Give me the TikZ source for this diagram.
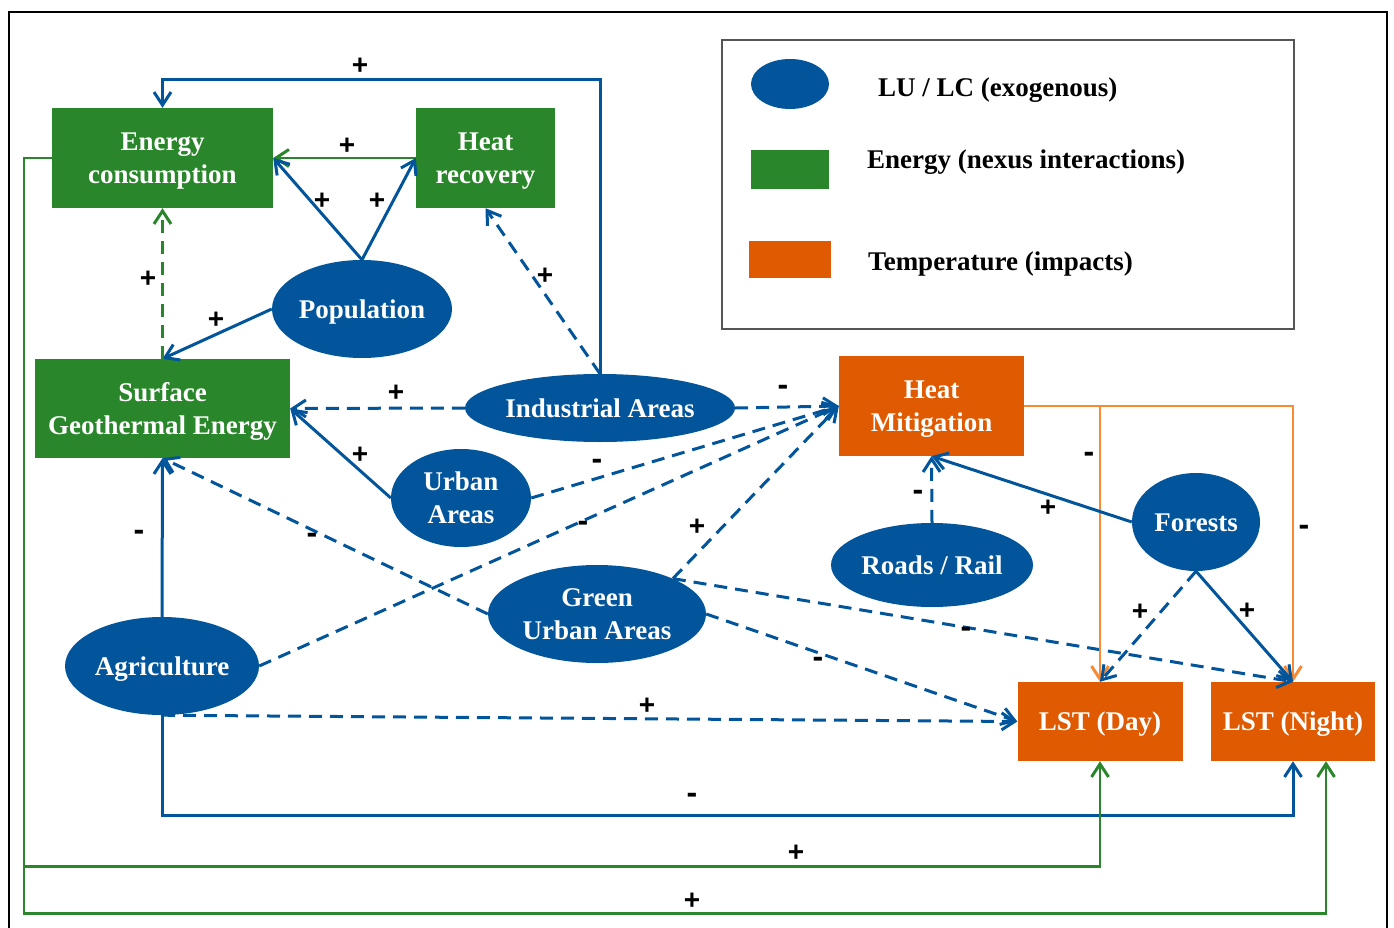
\documentclass[tikz,border=0pt]{standalone}
\usepackage{fontspec}
\setmainfont{Liberation Serif}
\newfontfamily\labfont{Liberation Sans}
\usetikzlibrary{shapes.geometric,arrows.meta,calc}
\definecolor{cblue}{HTML}{02549B}
\definecolor{cgreen}{HTML}{2A862A}
\definecolor{corange}{HTML}{DF5A00}
\definecolor{clorange}{HTML}{F78A33}
\definecolor{cgray}{HTML}{555555}
\begin{document}
\begin{tikzpicture}[x=1pt,y=-1pt,
  nodefont/.style={font=\fontsize{27}{33}\selectfont\bfseries},
  oneline/.style={text height=24pt,text depth=6pt},
  twoline/.style={text height=57pt,text depth=6pt},
  ell/.style={ellipse,fill=cblue,text=white,inner sep=0pt,align=center,nodefont},
  gbox/.style={rectangle,fill=cgreen,text=white,inner sep=0pt,align=center,nodefont},
  obox/.style={rectangle,fill=corange,text=white,inner sep=0pt,align=center,nodefont},
  bl/.style={draw=cblue,line width=3pt},
  gr/.style={draw=cgreen,line width=2.6pt},
  orl/.style={draw=clorange,line width=2.6pt},
  dsh/.style={dash pattern=on 13pt off 8pt},
  arr/.style={-{Straight Barb[length=13pt,width=17pt,line width=3pt]}},
  sgp/.style={font=\labfont\fontsize{28}{28}\selectfont\bfseries,text=black,inner sep=0pt},
  sgm/.style={font=\labfont\fontsize{32}{32}\selectfont\bfseries,text=black,inner sep=0pt},
  legtxt/.style={font=\fontsize{27}{33}\selectfont\bfseries,text=black,inner sep=0pt,anchor=west,oneline}
]
\useasboundingbox (0,0) rectangle (1394,928);
% outer frame
\draw[black,line width=2.5pt] (9,945) -- (9,12) -- (1387,12) -- (1387,945);
% legend
\node[draw=cgray,line width=1.2pt,minimum width=572,minimum height=289,inner sep=0pt] (legend) at (1008,184.5) {};
\node[ellipse,fill=cblue,minimum width=78,minimum height=50,inner sep=0pt] (legE) at (790,84) {};
\node[fill=cgreen,minimum width=78,minimum height=39,inner sep=0pt] (legG) at (790,169.5) {};
\node[fill=corange,minimum width=82,minimum height=37,inner sep=0pt] (legO) at (790,259.5) {};
\node[legtxt] (legEt) at (878,88) {LU / LC (exogenous)};
\node[legtxt] (legGt) at (867,160) {Energy (nexus interactions)};
\node[legtxt] (legOt) at (868,261) {Temperature (impacts)};
% nodes
\node[gbox,twoline,minimum width=221,minimum height=100] (ec) at (162.5,158) {Energy\\consumption};
\node[gbox,twoline,minimum width=139,minimum height=100] (hr) at (485.5,158) {Heat\\recovery};
\node[ell,oneline,minimum width=180,minimum height=98] (pop) at (362,309) {Population};
\node[gbox,twoline,minimum width=255,minimum height=99] (sge) at (162.5,408.5) {Surface\\Geothermal Energy};
\node[ell,oneline,minimum width=270,minimum height=68] (ind) at (600,408) {Industrial Areas};
\node[ell,twoline,minimum width=140,minimum height=98] (ua) at (461,498) {Urban\\Areas};
\node[obox,twoline,minimum width=185,minimum height=100] (hm) at (931.5,406) {Heat\\Mitigation};
\node[ell,oneline,minimum width=128,minimum height=98] (for) at (1196,522) {Forests};
\node[ell,oneline,minimum width=202,minimum height=84] (rr) at (932,565) {Roads / Rail};
\node[ell,twoline,minimum width=218,minimum height=98] (gua) at (597,614) {Green\\Urban Areas};
\node[ell,oneline,minimum width=194,minimum height=98] (agr) at (162,666) {Agriculture};
\node[obox,oneline,minimum width=165,minimum height=79] (lstd) at (1100,721.5) {LST (Day)};
\node[obox,oneline,minimum width=164,minimum height=79] (lstn) at (1293,721.5) {LST (Night)};
% connectors
\draw[bl,arr] (ind.north) |- ($(ec.north)+(0,-28)$) -- (ec.north);
\draw[gr,arr] (hr.west) -- (ec.east);
\draw[bl,arr] (pop.north) -- (ec.east);
\draw[bl,arr] (pop.north) -- (hr.west);
\draw[bl,arr] (pop.west) -- (sge.north);
\draw[gr,dsh,arr] (sge.north) -- (ec.south);
\draw[bl,dsh,arr] (ind.north) -- (hr.south);
\draw[bl,dsh,arr] (ind.west) -- (sge.east);
\draw[bl,arr] (ua.west) -- (sge.east);
\draw[bl,dsh,arr] (ind.east) -- (hm.west);
\draw[bl,dsh,arr] (ua.east) -- (hm.west);
\draw[bl,dsh,arr] (agr.east) -- (hm.west);
\draw[bl,dsh,arr] (gua.25) -- (hm.west);
\draw[bl,dsh,arr] (gua.west) -- (sge.south);
\draw[bl,arr] (agr.north) -- (sge.south);
\draw[bl,dsh,arr] (gua.25) -- (lstn.north);
\draw[bl,dsh,arr] (gua.east) -- (lstd.west);
\draw[bl,dsh,arr] (agr.south) -- (lstd.west);
\draw[bl,arr] (agr.south) -- ++(0,100) -| (lstn.south);
\draw[gr,arr] (ec.west) -- ++(-28,0) |- ($(lstd.south)+(0,105)$) -- (lstd.south);
\draw[gr,arr] (ec.west) -- ++(-28,0) |- ($(lstn.south)+(33,152)$) -- ($(lstn.south)+(33,0)$);
\draw[orl,arr] (hm.east) -| (lstd.north);
\draw[orl,arr] (hm.east) -| (lstn.north);
\draw[bl,arr] (for.west) -- (hm.south);
\draw[bl,dsh,arr] (rr.north) -- (hm.south);
\draw[bl,dsh,arr] (for.south) -- (lstd.north);
\draw[bl,arr] (for.south) -- (lstn.north);
% signs
\node[sgp] (s1) at (360,66) {+};
\node[sgp] (s2) at (347,146) {+};
\node[sgp] (s3) at (322,201) {+};
\node[sgp] (s4) at (377,201) {+};
\node[sgp] (s5) at (148,279) {+};
\node[sgp] (s6) at (216,320) {+};
\node[sgp] (s7) at (545,276) {+};
\node[sgp] (s8) at (396,393) {+};
\node[sgp] (s9) at (360,455) {+};
\node[sgm] (s10) at (783,390) {-};
\node[sgm] (s11) at (597,464) {-};
\node[sgm] (s12) at (583,526) {-};
\node[sgp] (s13) at (697,527) {+};
\node[sgm] (s14) at (312,538) {-};
\node[sgm] (s15) at (139,535) {-};
\node[sgm] (s16) at (966,632) {-};
\node[sgm] (s17) at (818,662) {-};
\node[sgp] (s18) at (647,706) {+};
\node[sgm] (s19) at (692,798) {-};
\node[sgp] (s20) at (796,853) {+};
\node[sgp] (s21) at (692,901) {+};
\node[sgm] (s22) at (1089,457) {-};
\node[sgm] (s23) at (1304,530) {-};
\node[sgp] (s24) at (1048,508) {+};
\node[sgm] (s25) at (918,495) {-};
\node[sgp] (s26) at (1140,612) {+};
\node[sgp] (s27) at (1247,611) {+};
\end{tikzpicture}
\end{document}
